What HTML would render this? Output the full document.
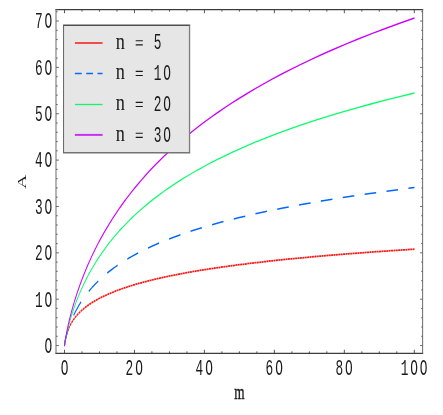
<!DOCTYPE html>
<html><head><meta charset="utf-8"><title>plot</title>
<style>html,body{margin:0;padding:0;background:#fff;}body{width:443px;height:415px;overflow:hidden;font-family:"Liberation Mono",monospace;}</style></head>
<body>
<svg width="443" height="415" viewBox="0 0 443 415" style="display:block;will-change:transform">
<rect width="443" height="415" fill="#fff"/>
<g transform="scale(1,1.53)" fill="none" stroke-linejoin="round">
<path d="M64.50,225.95 L64.51,225.85 L64.51,225.85 L64.51,225.85 L64.51,225.84 L64.51,225.84 L64.51,225.83 L64.51,225.83 L64.51,225.82 L64.52,225.82 L64.52,225.81 L64.52,225.81 L64.52,225.80 L64.52,225.80 L64.52,225.79 L64.52,225.79 L64.52,225.78 L64.52,225.77 L64.52,225.77 L64.52,225.76 L64.53,225.75 L64.53,225.74 L64.53,225.73 L64.53,225.73 L64.53,225.72 L64.53,225.71 L64.53,225.70 L64.53,225.69 L64.54,225.68 L64.54,225.67 L64.54,225.66 L64.54,225.65 L64.54,225.64 L64.54,225.62 L64.55,225.61 L64.55,225.60 L64.55,225.58 L64.55,225.57 L64.56,225.56 L64.56,225.54 L64.56,225.52 L64.56,225.51 L64.57,225.49 L64.57,225.47 L64.57,225.46 L64.57,225.44 L64.58,225.42 L64.58,225.40 L64.58,225.38 L64.59,225.35 L64.59,225.33 L64.60,225.31 L64.60,225.28 L64.61,225.26 L64.61,225.23 L64.61,225.20 L64.62,225.18 L64.63,225.15 L64.63,225.12 L64.64,225.09 L64.64,225.05 L64.65,225.02 L64.66,224.98 L64.66,224.95 L64.67,224.91 L64.68,224.87 L64.69,224.83 L64.69,224.79 L64.70,224.75 L64.71,224.70 L64.72,224.66 L64.73,224.61 L64.74,224.56 L64.75,224.51 L64.76,224.45 L64.77,224.40 L64.79,224.34 L64.80,224.28 L64.81,224.22 L64.83,224.16 L64.84,224.10 L64.85,224.03 L64.87,223.96 L64.89,223.89 L64.90,223.81 L64.92,223.74 L64.94,223.66 L64.96,223.58 L64.98,223.49 L65.00,223.41 L65.02,223.32 L65.05,223.23 L65.07,223.13 L65.10,223.03 L65.12,222.93 L65.15,222.83 L65.18,222.72 L65.21,222.61 L65.24,222.50 L65.27,222.38 L65.31,222.26 L65.34,222.14 L65.38,222.01 L65.42,221.88 L65.46,221.74 L65.50,221.60 L65.55,221.46 L65.60,221.32 L65.64,221.17 L65.70,221.01 L65.75,220.85 L65.80,220.69 L65.86,220.53 L65.92,220.35 L65.98,220.18 L66.05,220.00 L66.12,219.82 L66.19,219.63 L66.27,219.44 L66.34,219.24 L66.43,219.04 L66.51,218.84 L66.60,218.63 L66.69,218.41 L66.79,218.20 L66.89,217.97 L67.00,217.75 L67.11,217.51 L67.22,217.28 L67.34,217.04 L67.47,216.79 L67.60,216.54 L67.74,216.28 L67.88,216.02 L68.03,215.76 L68.19,215.49 L68.35,215.22 L68.52,214.94 L68.70,214.66 L68.89,214.37 L69.08,214.08 L69.29,213.78 L69.50,213.48 L69.72,213.17 L69.95,212.86 L70.19,212.55 L70.44,212.23 L70.71,211.90 L70.98,211.57 L71.27,211.24 L71.57,210.90 L71.88,210.56 L72.21,210.21 L72.55,209.86 L72.91,209.50 L73.28,209.13 L73.67,208.77 L74.08,208.40 L74.50,208.02 L74.94,207.64 L75.41,207.25 L75.89,206.86 L76.40,206.46 L76.92,206.06 L77.47,205.65 L78.05,205.24 L78.65,204.83 L79.27,204.41 L79.93,203.98 L80.61,203.55 L81.33,203.11 L82.07,202.67 L82.85,202.23 L83.66,201.77 L84.51,201.32 L85.40,200.86 L86.33,200.39 L87.29,199.92 L88.30,199.44 L89.36,198.96 L90.46,198.48 L91.61,197.99 L92.81,197.49 L94.07,196.99 L95.38,196.48 L96.74,195.97 L98.17,195.46 L99.66,194.94 L101.22,194.41 L102.85,193.88 L104.55,193.35 L106.32,192.81 L108.18,192.27 L110.11,191.72 L112.13,191.17 L114.24,190.61 L116.45,190.05 L118.75,189.48 L121.15,188.91 L123.66,188.34 L126.29,187.76 L129.02,187.18 L131.88,186.60 L134.87,186.01 L137.99,185.42 L141.24,184.82 L144.64,184.22 L148.19,183.62 L151.90,183.01 L155.78,182.40 L159.82,181.79 L164.04,181.18 L168.45,180.56 L173.06,179.94 L177.87,179.32 L182.89,178.70 L188.14,178.07 L193.62,177.44 L199.34,176.81 L205.31,176.18 L211.55,175.55 L218.07,174.91 L224.88,174.28 L231.98,173.64 L239.40,173.00 L247.15,172.37 L255.25,171.73 L263.70,171.09 L272.52,170.45 L281.74,169.81 L291.37,169.17 L301.42,168.54 L311.92,167.90 L322.88,167.26 L334.33,166.63 L346.29,166.00 L358.77,165.37 L371.81,164.74 L385.43,164.11 L399.65,163.49 L414.50,162.86" stroke="#ff1414" stroke-width="1.15" stroke-dasharray="1.95 0.45"/>
<path d="M64.50,225.95 L64.51,225.86 L64.51,225.86 L64.51,225.85 L64.51,225.85 L64.51,225.85 L64.51,225.84 L64.51,225.84 L64.51,225.83 L64.52,225.83 L64.52,225.83 L64.52,225.82 L64.52,225.82 L64.52,225.81 L64.52,225.81 L64.52,225.80 L64.52,225.79 L64.52,225.79 L64.52,225.78 L64.52,225.78 L64.53,225.77 L64.53,225.76 L64.53,225.76 L64.53,225.75 L64.53,225.74 L64.53,225.73 L64.53,225.72 L64.53,225.71 L64.54,225.71 L64.54,225.70 L64.54,225.69 L64.54,225.68 L64.54,225.67 L64.54,225.66 L64.55,225.64 L64.55,225.63 L64.55,225.62 L64.55,225.61 L64.56,225.60 L64.56,225.58 L64.56,225.57 L64.56,225.55 L64.57,225.54 L64.57,225.52 L64.57,225.51 L64.57,225.49 L64.58,225.47 L64.58,225.45 L64.58,225.44 L64.59,225.42 L64.59,225.40 L64.60,225.38 L64.60,225.35 L64.61,225.33 L64.61,225.31 L64.61,225.28 L64.62,225.26 L64.63,225.23 L64.63,225.21 L64.64,225.18 L64.64,225.15 L64.65,225.12 L64.66,225.09 L64.66,225.06 L64.67,225.02 L64.68,224.99 L64.69,224.95 L64.69,224.92 L64.70,224.88 L64.71,224.84 L64.72,224.80 L64.73,224.76 L64.74,224.71 L64.75,224.67 L64.76,224.62 L64.77,224.57 L64.79,224.52 L64.80,224.47 L64.81,224.42 L64.83,224.36 L64.84,224.30 L64.85,224.24 L64.87,224.18 L64.89,224.12 L64.90,224.05 L64.92,223.98 L64.94,223.91 L64.96,223.84 L64.98,223.76 L65.00,223.68 L65.02,223.60 L65.05,223.52 L65.07,223.43 L65.10,223.34 L65.12,223.25 L65.15,223.15 L65.18,223.05 L65.21,222.95 L65.24,222.85 L65.27,222.74 L65.31,222.62 L65.34,222.51 L65.38,222.39 L65.42,222.26 L65.46,222.13 L65.50,222.00 L65.55,221.86 L65.60,221.72 L65.64,221.57 L65.70,221.42 L65.75,221.27 L65.80,221.11 L65.86,220.94 L65.92,220.77 L65.98,220.59 L66.05,220.41 L66.12,220.22 L66.19,220.03 L66.27,219.83 L66.34,219.62 L66.43,219.41 L66.51,219.19 L66.60,218.97 L66.69,218.73 L66.79,218.50 L66.89,218.25 L67.00,218.00 L67.11,217.73 L67.22,217.47 L67.34,217.19 L67.47,216.90 L67.60,216.61 L67.74,216.31 L67.88,216.00 L68.03,215.68 L68.19,215.35 L68.35,215.02 L68.52,214.67 L68.70,214.31 L68.89,213.95 L69.08,213.57 L69.29,213.19 L69.50,212.79 L69.72,212.39 L69.95,211.97 L70.19,211.55 L70.44,211.11 L70.71,210.66 L70.98,210.20 L71.27,209.73 L71.57,209.25 L71.88,208.76 L72.21,208.25 L72.55,207.74 L72.91,207.21 L73.28,206.67 L73.67,206.11 L74.08,205.55 L74.50,204.97 L74.94,204.38 L75.41,203.78 L75.89,203.17 L76.40,202.54 L76.92,201.90 L77.47,201.25 L78.05,200.58 L78.65,199.91 L79.27,199.22 L79.93,198.51 L80.61,197.80 L81.33,197.07 L82.07,196.33 L82.85,195.57 L83.66,194.81 L84.51,194.03 L85.40,193.24 L86.33,192.43 L87.29,191.62 L88.30,190.79 L89.36,189.95 L90.46,189.09 L91.61,188.23 L92.81,187.35 L94.07,186.46 L95.38,185.56 L96.74,184.65 L98.17,183.73 L99.66,182.79 L101.22,181.85 L102.85,180.89 L104.55,179.92 L106.32,178.95 L108.18,177.96 L110.11,176.96 L112.13,175.95 L114.24,174.94 L116.45,173.91 L118.75,172.87 L121.15,171.83 L123.66,170.77 L126.29,169.71 L129.02,168.64 L131.88,167.56 L134.87,166.47 L137.99,165.38 L141.24,164.28 L144.64,163.17 L148.19,162.05 L151.90,160.93 L155.78,159.80 L159.82,158.66 L164.04,157.52 L168.45,156.37 L173.06,155.22 L177.87,154.06 L182.89,152.89 L188.14,151.72 L193.62,150.55 L199.34,149.37 L205.31,148.18 L211.55,146.99 L218.07,145.80 L224.88,144.60 L231.98,143.40 L239.40,142.20 L247.15,140.99 L255.25,139.78 L263.70,138.57 L272.52,137.35 L281.74,136.13 L291.37,134.91 L301.42,133.69 L311.92,132.46 L322.88,131.23 L334.33,130.00 L346.29,128.77 L358.77,127.54 L371.81,126.31 L385.43,125.07 L399.65,123.83 L414.50,122.60" stroke="#0066ff" stroke-width="1.0" stroke-dasharray="11.6 10.38"/>
<path d="M64.50,225.95 L64.51,225.86 L64.51,225.86 L64.51,225.85 L64.51,225.85 L64.51,225.84 L64.51,225.84 L64.51,225.84 L64.51,225.83 L64.52,225.83 L64.52,225.82 L64.52,225.82 L64.52,225.81 L64.52,225.81 L64.52,225.80 L64.52,225.80 L64.52,225.79 L64.52,225.78 L64.52,225.78 L64.52,225.77 L64.53,225.76 L64.53,225.76 L64.53,225.75 L64.53,225.74 L64.53,225.73 L64.53,225.73 L64.53,225.72 L64.53,225.71 L64.54,225.70 L64.54,225.69 L64.54,225.68 L64.54,225.67 L64.54,225.66 L64.54,225.65 L64.55,225.64 L64.55,225.62 L64.55,225.61 L64.55,225.60 L64.56,225.58 L64.56,225.57 L64.56,225.56 L64.56,225.54 L64.57,225.53 L64.57,225.51 L64.57,225.49 L64.57,225.48 L64.58,225.46 L64.58,225.44 L64.58,225.42 L64.59,225.40 L64.59,225.38 L64.60,225.36 L64.60,225.33 L64.61,225.31 L64.61,225.29 L64.61,225.26 L64.62,225.24 L64.63,225.21 L64.63,225.18 L64.64,225.15 L64.64,225.12 L64.65,225.09 L64.66,225.06 L64.66,225.02 L64.67,224.99 L64.68,224.95 L64.69,224.92 L64.69,224.88 L64.70,224.84 L64.71,224.80 L64.72,224.75 L64.73,224.71 L64.74,224.66 L64.75,224.61 L64.76,224.56 L64.77,224.51 L64.79,224.46 L64.80,224.40 L64.81,224.35 L64.83,224.29 L64.84,224.23 L64.85,224.16 L64.87,224.10 L64.89,224.03 L64.90,223.96 L64.92,223.88 L64.94,223.81 L64.96,223.73 L64.98,223.65 L65.00,223.56 L65.02,223.48 L65.05,223.39 L65.07,223.29 L65.10,223.19 L65.12,223.09 L65.15,222.99 L65.18,222.88 L65.21,222.77 L65.24,222.65 L65.27,222.53 L65.31,222.41 L65.34,222.28 L65.38,222.15 L65.42,222.01 L65.46,221.87 L65.50,221.72 L65.55,221.57 L65.60,221.41 L65.64,221.25 L65.70,221.08 L65.75,220.90 L65.80,220.72 L65.86,220.53 L65.92,220.34 L65.98,220.14 L66.05,219.93 L66.12,219.72 L66.19,219.49 L66.27,219.26 L66.34,219.03 L66.43,218.78 L66.51,218.52 L66.60,218.26 L66.69,217.99 L66.79,217.71 L66.89,217.42 L67.00,217.11 L67.11,216.80 L67.22,216.48 L67.34,216.15 L67.47,215.81 L67.60,215.45 L67.74,215.09 L67.88,214.71 L68.03,214.32 L68.19,213.92 L68.35,213.50 L68.52,213.07 L68.70,212.63 L68.89,212.17 L69.08,211.70 L69.29,211.21 L69.50,210.71 L69.72,210.20 L69.95,209.67 L70.19,209.12 L70.44,208.55 L70.71,207.97 L70.98,207.37 L71.27,206.76 L71.57,206.12 L71.88,205.47 L72.21,204.80 L72.55,204.11 L72.91,203.40 L73.28,202.68 L73.67,201.93 L74.08,201.16 L74.50,200.37 L74.94,199.56 L75.41,198.73 L75.89,197.88 L76.40,197.00 L76.92,196.11 L77.47,195.19 L78.05,194.25 L78.65,193.28 L79.27,192.30 L79.93,191.29 L80.61,190.25 L81.33,189.20 L82.07,188.12 L82.85,187.01 L83.66,185.88 L84.51,184.73 L85.40,183.55 L86.33,182.35 L87.29,181.12 L88.30,179.86 L89.36,178.59 L90.46,177.28 L91.61,175.96 L92.81,174.60 L94.07,173.23 L95.38,171.82 L96.74,170.39 L98.17,168.94 L99.66,167.46 L101.22,165.96 L102.85,164.43 L104.55,162.88 L106.32,161.31 L108.18,159.71 L110.11,158.08 L112.13,156.43 L114.24,154.76 L116.45,153.06 L118.75,151.34 L121.15,149.60 L123.66,147.84 L126.29,146.05 L129.02,144.24 L131.88,142.41 L134.87,140.56 L137.99,138.69 L141.24,136.79 L144.64,134.88 L148.19,132.94 L151.90,130.99 L155.78,129.02 L159.82,127.02 L164.04,125.01 L168.45,122.99 L173.06,120.94 L177.87,118.88 L182.89,116.80 L188.14,114.71 L193.62,112.59 L199.34,110.47 L205.31,108.33 L211.55,106.17 L218.07,104.01 L224.88,101.82 L231.98,99.63 L239.40,97.42 L247.15,95.20 L255.25,92.97 L263.70,90.73 L272.52,88.48 L281.74,86.22 L291.37,83.95 L301.42,81.67 L311.92,79.38 L322.88,77.08 L334.33,74.77 L346.29,72.46 L358.77,70.14 L371.81,67.81 L385.43,65.48 L399.65,63.14 L414.50,60.79" stroke="#00ff66" stroke-width="0.85"/>
<path d="M64.50,225.95 L64.51,225.85 L64.51,225.85 L64.51,225.85 L64.51,225.84 L64.51,225.84 L64.51,225.83 L64.51,225.83 L64.51,225.82 L64.52,225.82 L64.52,225.81 L64.52,225.81 L64.52,225.80 L64.52,225.80 L64.52,225.79 L64.52,225.79 L64.52,225.78 L64.52,225.77 L64.52,225.77 L64.52,225.76 L64.53,225.75 L64.53,225.74 L64.53,225.74 L64.53,225.73 L64.53,225.72 L64.53,225.71 L64.53,225.70 L64.53,225.69 L64.54,225.68 L64.54,225.67 L64.54,225.66 L64.54,225.65 L64.54,225.64 L64.54,225.63 L64.55,225.61 L64.55,225.60 L64.55,225.59 L64.55,225.57 L64.56,225.56 L64.56,225.54 L64.56,225.53 L64.56,225.51 L64.57,225.49 L64.57,225.48 L64.57,225.46 L64.57,225.44 L64.58,225.42 L64.58,225.40 L64.58,225.38 L64.59,225.36 L64.59,225.33 L64.60,225.31 L64.60,225.29 L64.61,225.26 L64.61,225.23 L64.61,225.21 L64.62,225.18 L64.63,225.15 L64.63,225.12 L64.64,225.09 L64.64,225.05 L64.65,225.02 L64.66,224.98 L64.66,224.95 L64.67,224.91 L64.68,224.87 L64.69,224.83 L64.69,224.79 L64.70,224.74 L64.71,224.70 L64.72,224.65 L64.73,224.60 L64.74,224.55 L64.75,224.50 L64.76,224.44 L64.77,224.38 L64.79,224.33 L64.80,224.26 L64.81,224.20 L64.83,224.14 L64.84,224.07 L64.85,224.00 L64.87,223.92 L64.89,223.85 L64.90,223.77 L64.92,223.69 L64.94,223.60 L64.96,223.52 L64.98,223.43 L65.00,223.33 L65.02,223.24 L65.05,223.13 L65.07,223.03 L65.10,222.92 L65.12,222.81 L65.15,222.69 L65.18,222.57 L65.21,222.45 L65.24,222.32 L65.27,222.19 L65.31,222.05 L65.34,221.90 L65.38,221.75 L65.42,221.60 L65.46,221.44 L65.50,221.28 L65.55,221.11 L65.60,220.93 L65.64,220.74 L65.70,220.55 L65.75,220.36 L65.80,220.15 L65.86,219.94 L65.92,219.73 L65.98,219.50 L66.05,219.27 L66.12,219.02 L66.19,218.77 L66.27,218.51 L66.34,218.25 L66.43,217.97 L66.51,217.68 L66.60,217.39 L66.69,217.08 L66.79,216.76 L66.89,216.43 L67.00,216.09 L67.11,215.74 L67.22,215.38 L67.34,215.00 L67.47,214.61 L67.60,214.21 L67.74,213.80 L67.88,213.37 L68.03,212.93 L68.19,212.47 L68.35,212.00 L68.52,211.51 L68.70,211.01 L68.89,210.49 L69.08,209.95 L69.29,209.40 L69.50,208.83 L69.72,208.24 L69.95,207.63 L70.19,207.01 L70.44,206.36 L70.71,205.69 L70.98,205.01 L71.27,204.30 L71.57,203.57 L71.88,202.82 L72.21,202.05 L72.55,201.25 L72.91,200.43 L73.28,199.59 L73.67,198.72 L74.08,197.83 L74.50,196.91 L74.94,195.97 L75.41,195.00 L75.89,194.00 L76.40,192.98 L76.92,191.93 L77.47,190.85 L78.05,189.74 L78.65,188.60 L79.27,187.44 L79.93,186.24 L80.61,185.01 L81.33,183.75 L82.07,182.46 L82.85,181.14 L83.66,179.78 L84.51,178.40 L85.40,176.98 L86.33,175.52 L87.29,174.03 L88.30,172.51 L89.36,170.96 L90.46,169.37 L91.61,167.74 L92.81,166.08 L94.07,164.38 L95.38,162.65 L96.74,160.88 L98.17,159.08 L99.66,157.24 L101.22,155.36 L102.85,153.44 L104.55,151.49 L106.32,149.50 L108.18,147.48 L110.11,145.42 L112.13,143.32 L114.24,141.18 L116.45,139.01 L118.75,136.80 L121.15,134.55 L123.66,132.27 L126.29,129.95 L129.02,127.60 L131.88,125.20 L134.87,122.78 L137.99,120.31 L141.24,117.82 L144.64,115.28 L148.19,112.72 L151.90,110.11 L155.78,107.48 L159.82,104.81 L164.04,102.11 L168.45,99.37 L173.06,96.60 L177.87,93.80 L182.89,90.97 L188.14,88.11 L193.62,85.22 L199.34,82.30 L205.31,79.35 L211.55,76.37 L218.07,73.37 L224.88,70.33 L231.98,67.27 L239.40,64.19 L247.15,61.08 L255.25,57.94 L263.70,54.78 L272.52,51.59 L281.74,48.39 L291.37,45.16 L301.42,41.90 L311.92,38.63 L322.88,35.34 L334.33,32.02 L346.29,28.69 L358.77,25.34 L371.81,21.97 L385.43,18.58 L399.65,15.18 L414.50,11.76" stroke="#cc00ff" stroke-width="0.95"/>
</g>
<path d="M55.4,9.6H423.20000000000005M55.4,353.35H423.20000000000005" stroke="#3c3c3c" stroke-width="1.15" fill="none"/>
<path d="M56.0,9.6V353.35M422.6,9.6V353.35" stroke="#727272" stroke-width="1.05" fill="none"/>
<path d="M64.50,353.35v-3.6M64.50,9.6v3.6M81.99,353.35v-2.0M81.99,9.6v2.0M99.48,353.35v-2.0M99.48,9.6v2.0M116.97,353.35v-2.0M116.97,9.6v2.0M134.46,353.35v-3.6M134.46,9.6v3.6M151.95,353.35v-2.0M151.95,9.6v2.0M169.44,353.35v-2.0M169.44,9.6v2.0M186.93,353.35v-2.0M186.93,9.6v2.0M204.42,353.35v-3.6M204.42,9.6v3.6M221.91,353.35v-2.0M221.91,9.6v2.0M239.40,353.35v-2.0M239.40,9.6v2.0M256.89,353.35v-2.0M256.89,9.6v2.0M274.38,353.35v-3.6M274.38,9.6v3.6M291.87,353.35v-2.0M291.87,9.6v2.0M309.36,353.35v-2.0M309.36,9.6v2.0M326.85,353.35v-2.0M326.85,9.6v2.0M344.34,353.35v-3.6M344.34,9.6v3.6M361.83,353.35v-2.0M361.83,9.6v2.0M379.32,353.35v-2.0M379.32,9.6v2.0M396.81,353.35v-2.0M396.81,9.6v2.0M414.30,353.35v-3.6M414.30,9.6v3.6" stroke="#444" stroke-width="0.9" fill="none"/>
<path d="M56.0,345.55h2.9M422.6,345.55h-2.5M56.0,336.28h1.7M422.6,336.28h-1.4M56.0,327.01h1.7M422.6,327.01h-1.4M56.0,317.73h1.7M422.6,317.73h-1.4M56.0,308.46h1.7M422.6,308.46h-1.4M56.0,299.19h2.9M422.6,299.19h-2.5M56.0,289.92h1.7M422.6,289.92h-1.4M56.0,280.65h1.7M422.6,280.65h-1.4M56.0,271.37h1.7M422.6,271.37h-1.4M56.0,262.10h1.7M422.6,262.10h-1.4M56.0,252.83h2.9M422.6,252.83h-2.5M56.0,243.56h1.7M422.6,243.56h-1.4M56.0,234.29h1.7M422.6,234.29h-1.4M56.0,225.01h1.7M422.6,225.01h-1.4M56.0,215.74h1.7M422.6,215.74h-1.4M56.0,206.47h2.9M422.6,206.47h-2.5M56.0,197.20h1.7M422.6,197.20h-1.4M56.0,187.93h1.7M422.6,187.93h-1.4M56.0,178.65h1.7M422.6,178.65h-1.4M56.0,169.38h1.7M422.6,169.38h-1.4M56.0,160.11h2.9M422.6,160.11h-2.5M56.0,150.84h1.7M422.6,150.84h-1.4M56.0,141.57h1.7M422.6,141.57h-1.4M56.0,132.29h1.7M422.6,132.29h-1.4M56.0,123.02h1.7M422.6,123.02h-1.4M56.0,113.75h2.9M422.6,113.75h-2.5M56.0,104.48h1.7M422.6,104.48h-1.4M56.0,95.21h1.7M422.6,95.21h-1.4M56.0,85.93h1.7M422.6,85.93h-1.4M56.0,76.66h1.7M422.6,76.66h-1.4M56.0,67.39h2.9M422.6,67.39h-2.5M56.0,58.12h1.7M422.6,58.12h-1.4M56.0,48.85h1.7M422.6,48.85h-1.4M56.0,39.57h1.7M422.6,39.57h-1.4M56.0,30.30h1.7M422.6,30.30h-1.4M56.0,21.03h2.9M422.6,21.03h-2.5M56.0,11.76h1.7M422.6,11.76h-1.4" stroke="#5a5a5a" stroke-width="0.9" fill="none"/>
<text transform="translate(0,375.40) scale(1,1.7422)" x="60.76" y="0" font-family="Liberation Mono" font-size="12.8" fill="#1a1a1a">O</text>
<text transform="translate(0,375.40) scale(1,1.7422)" x="125.62 135.22" y="0" font-family="Liberation Mono" font-size="12.8" fill="#1a1a1a">2O</text>
<text transform="translate(0,375.40) scale(1,1.7422)" x="195.58 205.18" y="0" font-family="Liberation Mono" font-size="12.8" fill="#1a1a1a">4O</text>
<text transform="translate(0,375.40) scale(1,1.7422)" x="265.54 275.14" y="0" font-family="Liberation Mono" font-size="12.8" fill="#1a1a1a">6O</text>
<text transform="translate(0,375.40) scale(1,1.7422)" x="335.50 345.10" y="0" font-family="Liberation Mono" font-size="12.8" fill="#1a1a1a">8O</text>
<text transform="translate(0,375.40) scale(1,1.7422)" x="400.66 410.26 419.86" y="0" font-family="Liberation Mono" font-size="12.8" fill="#1a1a1a">1OO</text>
<text transform="translate(0,352.90) scale(1,1.7422)" x="44.56" y="0" font-family="Liberation Mono" font-size="12.8" fill="#1a1a1a">O</text>
<text transform="translate(0,306.54) scale(1,1.7422)" x="34.96 44.56" y="0" font-family="Liberation Mono" font-size="12.8" fill="#1a1a1a">1O</text>
<text transform="translate(0,260.18) scale(1,1.7422)" x="34.96 44.56" y="0" font-family="Liberation Mono" font-size="12.8" fill="#1a1a1a">2O</text>
<text transform="translate(0,213.82) scale(1,1.7422)" x="34.96 44.56" y="0" font-family="Liberation Mono" font-size="12.8" fill="#1a1a1a">3O</text>
<text transform="translate(0,167.46) scale(1,1.7422)" x="34.96 44.56" y="0" font-family="Liberation Mono" font-size="12.8" fill="#1a1a1a">4O</text>
<text transform="translate(0,121.10) scale(1,1.7422)" x="34.96 44.56" y="0" font-family="Liberation Mono" font-size="12.8" fill="#1a1a1a">5O</text>
<text transform="translate(0,74.74) scale(1,1.7422)" x="34.96 44.56" y="0" font-family="Liberation Mono" font-size="12.8" fill="#1a1a1a">6O</text>
<text transform="translate(0,28.38) scale(1,1.7422)" x="34.96 44.56" y="0" font-family="Liberation Mono" font-size="12.8" fill="#1a1a1a">7O</text>
<text transform="translate(239.40,399.20) scale(1,1.5455)" text-anchor="middle" font-family="Liberation Serif" font-size="13.2" fill="#1a1a1a" stroke="#1a1a1a" stroke-width="0.25">m</text>
<text transform="translate(26.3,181.7) rotate(-90) scale(1.5873,1)" text-anchor="middle" font-family="Liberation Serif" font-size="12.6" fill="#1a1a1a">A</text>
<rect x="63.5" y="25.3" width="126.05" height="127.30" fill="#e6e6e6"/>
<path d="M63.1,25.3H190.2" stroke="#4e4e4e" stroke-width="1.6" fill="none"/>
<path d="M63.1,152.75H190.2" stroke="#747474" stroke-width="1.6" fill="none"/>
<path d="M63.55,25.3V152.6" stroke="#555" stroke-width="0.9" fill="none"/>
<path d="M189.55,25.3V152.6" stroke="#7c7c7c" stroke-width="1.3" fill="none"/>
<path d="M74.9,43.0H102.6" stroke="#f23a3a" stroke-width="1.8"/>
<text transform="translate(115.70,48.70) scale(1,1.2787)" text-anchor="start" font-family="Liberation Serif" font-size="18.3" fill="#1a1a1a">n</text>
<path d="M135.7,40.70h7.1M135.7,44.90h7.1" stroke="#1a1a1a" stroke-width="1.15"/>
<text transform="translate(0,49.10) scale(1,1.7422)" x="153.66" y="0" font-family="Liberation Mono" font-size="12.8" fill="#1a1a1a">5</text>
<path d="M74.9,73.6H102.6" stroke="#0a68ff" stroke-width="1.5" stroke-dasharray="6.8 4.5"/>
<text transform="translate(115.70,79.30) scale(1,1.2787)" text-anchor="start" font-family="Liberation Serif" font-size="18.3" fill="#1a1a1a">n</text>
<path d="M135.7,71.30h7.1M135.7,75.50h7.1" stroke="#1a1a1a" stroke-width="1.15"/>
<text transform="translate(0,79.70) scale(1,1.7422)" x="153.66 163.26" y="0" font-family="Liberation Mono" font-size="12.8" fill="#1a1a1a">1O</text>
<path d="M74.9,104.5H102.6" stroke="#12f56c" stroke-width="1.3"/>
<text transform="translate(115.70,110.30) scale(1,1.2787)" text-anchor="start" font-family="Liberation Serif" font-size="18.3" fill="#1a1a1a">n</text>
<path d="M135.7,102.30h7.1M135.7,106.50h7.1" stroke="#1a1a1a" stroke-width="1.15"/>
<text transform="translate(0,110.70) scale(1,1.7422)" x="153.66 163.26" y="0" font-family="Liberation Mono" font-size="12.8" fill="#1a1a1a">2O</text>
<path d="M74.9,134.9H102.6" stroke="#cb30f7" stroke-width="2.0"/>
<text transform="translate(115.70,141.20) scale(1,1.2787)" text-anchor="start" font-family="Liberation Serif" font-size="18.3" fill="#1a1a1a">n</text>
<path d="M135.7,133.20h7.1M135.7,137.40h7.1" stroke="#1a1a1a" stroke-width="1.15"/>
<text transform="translate(0,141.60) scale(1,1.7422)" x="153.66 163.26" y="0" font-family="Liberation Mono" font-size="12.8" fill="#1a1a1a">3O</text>
</svg>
</body></html>
